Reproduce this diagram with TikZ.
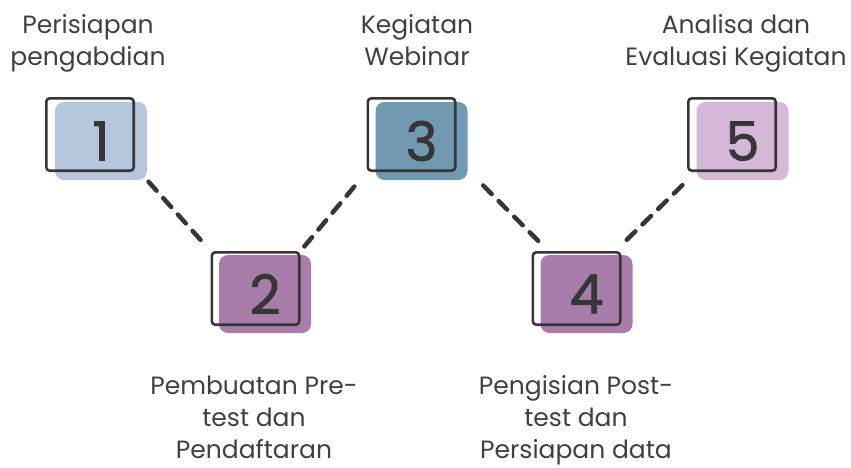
\documentclass[tikz,border=0pt]{standalone}
\usepackage{fontspec}
\setmainfont{Poppins}
\newfontfamily\digitfont[FakeBold=1.5]{Poppins}
\usetikzlibrary{positioning}
\definecolor{ink}{HTML}{363636}
\definecolor{txt}{HTML}{404040}
\definecolor{paleblue}{HTML}{B6C7DD}
\definecolor{mauve}{HTML}{A87DAA}
\definecolor{steel}{HTML}{7199B2}
\definecolor{lilac}{HTML}{D5B8D7}

\begin{document}
\begin{tikzpicture}[x=1pt, y=-1pt,
  back/.style={rectangle, rounded corners=9pt, minimum width=92pt,
               minimum height=78pt, inner sep=0pt, text=ink,
               font=\digitfont\fontsize{54}{54}\selectfont},
  frame/.style={rectangle, rounded corners=3.5pt, draw=ink, line width=2.6pt,
                minimum width=87.4pt, minimum height=72.4pt},
  caption/.style={align=center, anchor=base, inner sep=0pt, text=txt,
                  font=\fontsize{25}{32}\selectfont},
  link/.style={draw=ink, line width=4.5pt, line cap=round,
               dash pattern=on 12pt off 10pt}
]
\useasboundingbox (0,0) rectangle (851,467);

% Steps
\node[back, fill=paleblue] (f1) at (101,141)   {1};
\node[back, fill=mauve]    (f2) at (265,294)   {2};
\node[back, fill=steel]    (f3) at (421.5,141) {3};
\node[back, fill=mauve]    (f4) at (586.5,294) {4};
\node[back, fill=lilac]    (f5) at (742.5,141) {5};

\node[frame] (b1) at (90,134.5)    {};
\node[frame] (b2) at (255.5,288.5) {};
\node[frame] (b3) at (411.5,134.5) {};
\node[frame] (b4) at (576.5,288.5) {};
\node[frame] (b5) at (732,134.5)   {};

% Captions (placed at the baseline of their last line)
\node[caption] (c1) at (88,65)   {Perisiapan\\pengabdian};
\node[caption] (c2) at (254,458) {Pembuatan Pre-\\test dan\\Pendaftaran};
\node[caption] (c3) at (417,65)  {Kegiatan\\Webinar};
\node[caption] (c4) at (576,458) {Pengisian Post-\\test dan\\Persiapan data};
\node[caption] (c5) at (736,65)  {Analisa dan\\Evaluasi Kegiatan};

% Links
\draw[link, shorten <=2pt, shorten >=13pt] (f1.south east) -- (b2.north west);
\draw[link, shorten <=6pt, shorten >=9pt]  (b2.north east) -- (b3.south west);
\draw[link, shorten <=22pt, shorten >=14pt] (f3.-32) -- (b4.127);
\draw[link, shorten <=16pt, shorten >=18pt] (b4.44) -- (b5.226);
\end{tikzpicture}
\end{document}
